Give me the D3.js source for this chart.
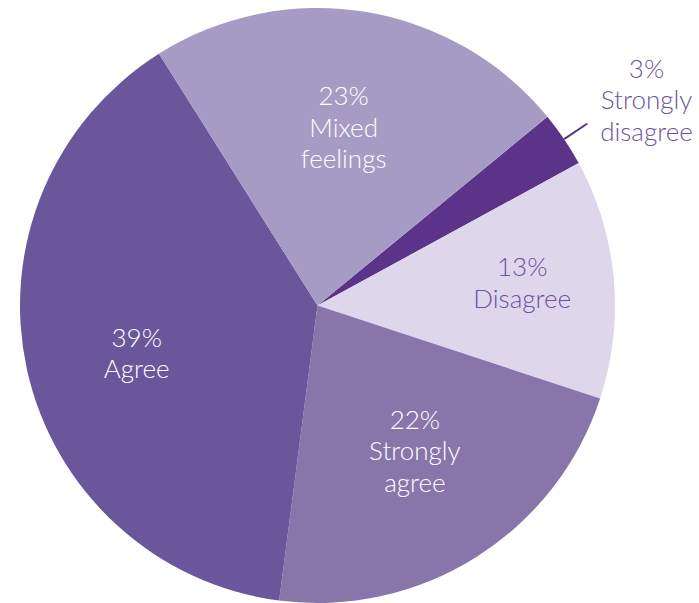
<!DOCTYPE html>
<html>
<head>
<meta charset="utf-8">
<script src="https://cdn.jsdelivr.net/npm/d3@7"></script>
<style>
  html, body { margin: 0; padding: 0; background: #ffffff; }
  svg { display: block; }
  text { font-family: Lato, "Open Sans", sans-serif; font-weight: 300; }
</style>
</head>
<body>
<svg id="chart" width="699" height="603"></svg>
<script>
// Survey responses, clockwise from the small "Strongly disagree" wedge
const categories = ["Strongly disagree", "Disagree", "Strongly agree", "Agree", "Mixed feelings"];
const values = [3, 13, 22, 39, 23];
const labelLines = [
  ["3%", "Strongly", "disagree"],
  ["13%", "Disagree"],
  ["22%", "Strongly", "agree"],
  ["39%", "Agree"],
  ["23%", "Mixed", "feelings"]
];

// Styling
const colors = ["#5b3389", "#ded6eb", "#8876ab", "#6a569b", "#a69bc4"];
const textColors = ["#6b52a3", "#6b52a3", "#ffffff", "#ffffff", "#ffffff"];
const labelRadius = [0, 206, 175, 187, 180];
const labelTurn = [0, -1.2, -1.6, -2.4, -0.85]; // degrees

const W = 699, H = 603;
const cx = 317.5, cy = 305.5, R = 297.5;
const start = 50.6 * Math.PI / 180;
const fontSize = 26;
const lineH = 31.5;

const svg = d3.select("#chart");
const g = svg.append("g").attr("transform", `translate(${cx},${cy})`);

const pie = d3.pie().sort(null).startAngle(start).endAngle(start + 2 * Math.PI);
const arcs = pie(values);
const arc = d3.arc().innerRadius(0).outerRadius(R);

g.selectAll("path.slice")
  .data(arcs)
  .join("path")
  .attr("class", "slice")
  .attr("d", arc)
  .attr("fill", (d, i) => colors[i]);

// Writes a multi-line label block centred on (x, y)
function block(sel, lines, x, y, color) {
  const t = sel.append("text")
    .attr("text-anchor", "middle")
    .attr("font-size", fontSize)
    .attr("fill", color);
  const first = y - (lines.length - 1) * lineH / 2 + fontSize * 0.36;
  lines.forEach((s, k) => {
    t.append("tspan").attr("x", x).attr("y", first + k * lineH).text(s);
  });
}

arcs.forEach((d, i) => {
  const mid = (d.startAngle + d.endAngle) / 2;
  if (i === 0) {
    // small wedge: leader line out to an outside label
    const r1 = R, r2 = R + 28;
    g.append("line")
      .attr("x1", Math.sin(mid) * r1).attr("y1", -Math.cos(mid) * r1)
      .attr("x2", Math.sin(mid) * r2).attr("y2", -Math.cos(mid) * r2)
      .attr("stroke", colors[0]).attr("stroke-width", 2);
    block(g, labelLines[i], 646.5 - cx, 100 - cy, textColors[i]);
  } else {
    const a = mid + labelTurn[i] * Math.PI / 180;
    const r = labelRadius[i];
    block(g, labelLines[i], Math.sin(a) * r, -Math.cos(a) * r, textColors[i]);
  }
});
</script>
</body>
</html>
